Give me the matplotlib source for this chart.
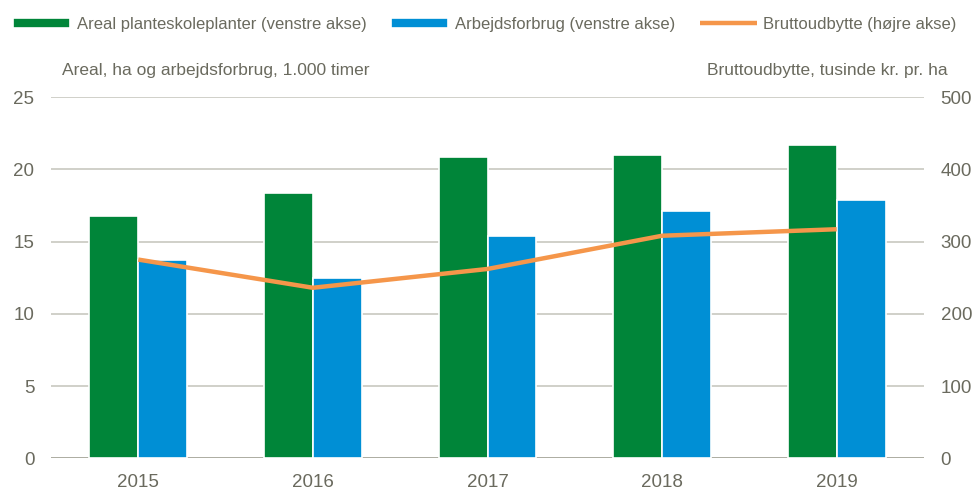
import matplotlib
matplotlib.use("Agg")
import matplotlib.pyplot as plt
import numpy as np

years = ["2015", "2016", "2017", "2018", "2019"]
areal = [16.8, 18.35, 20.85, 21.0, 21.7]
arbejd = [13.7, 12.5, 15.4, 17.1, 17.9]
brutto = [275, 236, 262, 308, 317]

plt.rcParams["font.family"] = ["Liberation Sans", "DejaVu Sans"]

GREEN = "#008539"
BLUE = "#008FD5"
ORANGE = "#F5964A"
GRID = "#C8C8C0"
TXT = "#6A6A5E"

fig = plt.figure(figsize=(9.75, 4.91), dpi=100)
ax = fig.add_axes([51/975, (491-458.3)/491, (924-51)/975, (458.3-97)/491])
ax2 = ax.twinx()

x = np.arange(len(years))
w = 0.28
ax.bar(x - w/2, areal, w, color=GREEN, edgecolor="white", linewidth=1.2, zorder=3,
       label="Areal planteskoleplanter (venstre akse)")
ax.bar(x + w/2, arbejd, w, color=BLUE, edgecolor="white", linewidth=1.2, zorder=3,
       label="Arbejdsforbrug (venstre akse)")
ln, = ax2.plot(x, brutto, color=ORANGE, linewidth=3.2, solid_capstyle="butt",
               label="Bruttoudbytte (højre akse)")

ax.set_xlim(-0.5, 4.5)
ax.set_ylim(0, 25)
ax2.set_ylim(0, 500)
ax.set_yticks(range(0, 26, 5))
ax2.set_yticks(range(0, 501, 100))
ax.set_xticks(x)
ax.set_xticklabels(years)

ax.yaxis.grid(True, color=GRID, linewidth=1.2, zorder=0)
ax.set_axisbelow(True)
for a in (ax, ax2):
    for s in a.spines.values():
        s.set_visible(False)
    a.tick_params(length=0, colors=TXT, labelsize=13.5)
ax.tick_params(axis="y", pad=12)
ax2.tick_params(axis="y", pad=12)
ax.tick_params(axis="x", pad=11)
ax.axhline(0, color="#A8A89C", linewidth=1.2, zorder=2)

fig.text(62/975, 1 - 70/491, "Areal, ha og arbejdsforbrug, 1.000 timer",
         color=TXT, fontsize=12.5, ha="left", va="center")
fig.text(948/975, 1 - 70/491, "Bruttoudbytte, tusinde kr. pr. ha",
         color=TXT, fontsize=12.5, ha="right", va="center")

h1, l1 = ax.get_legend_handles_labels()
leg = fig.legend(h1 + [ln], l1 + [ln.get_label()], loc="center",
                 bbox_to_anchor=(485/975, 1 - 24/491), ncol=3, frameon=False,
                 fontsize=12, handlelength=3.4, handleheight=0.55,
                 columnspacing=1.5, handletextpad=0.4, labelcolor=TXT)

fig.savefig("out.png", dpi=100)
